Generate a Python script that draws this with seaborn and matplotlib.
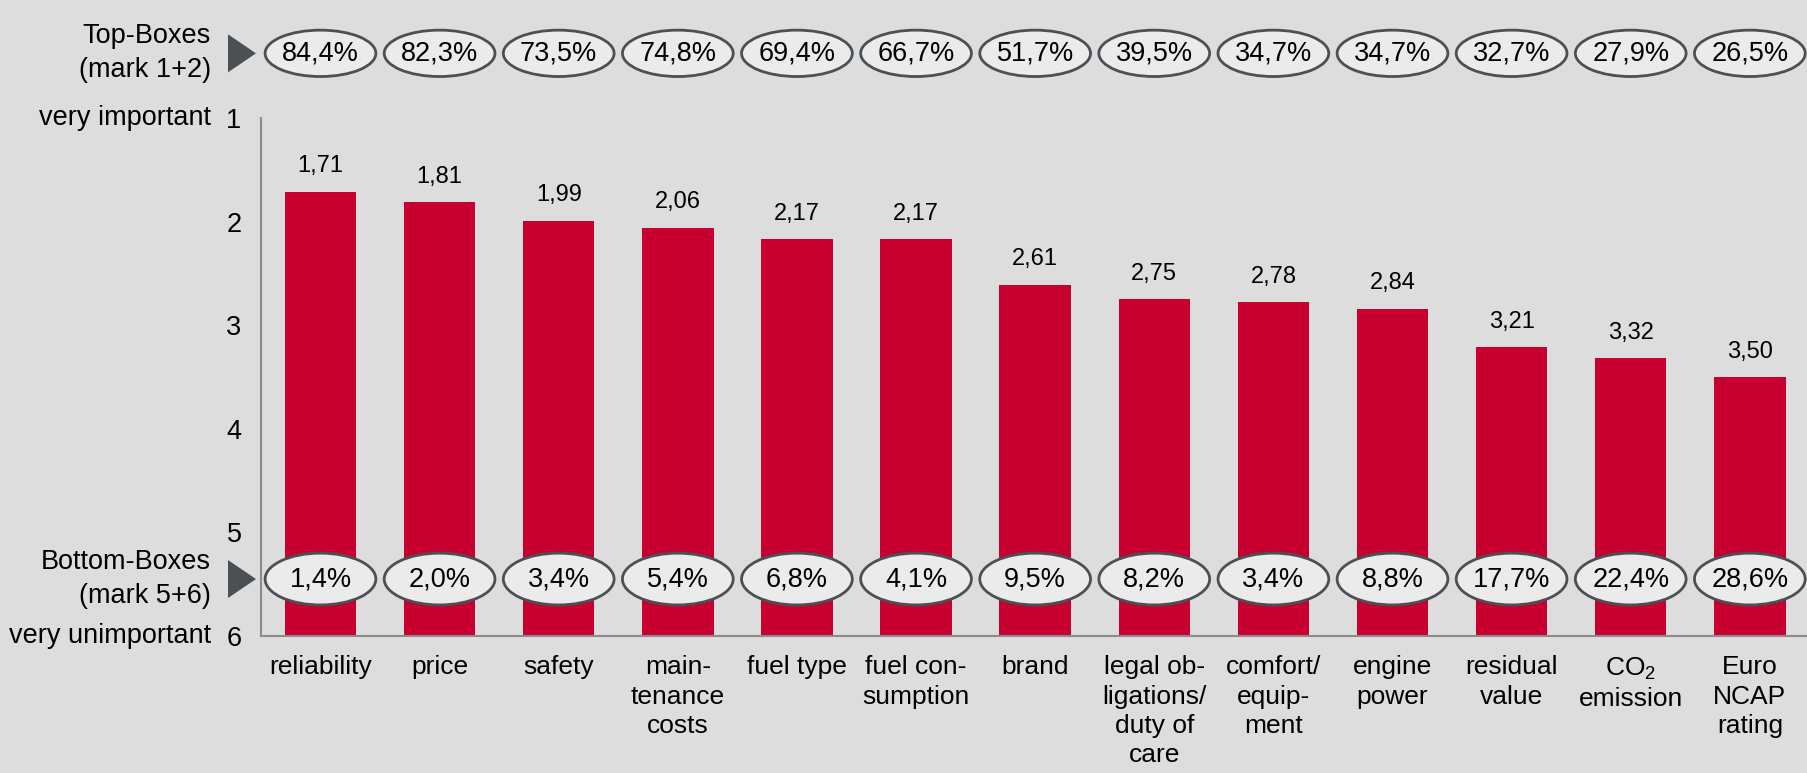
import matplotlib
matplotlib.use("Agg")
import matplotlib.pyplot as plt
import matplotlib.transforms as mtransforms
from matplotlib.patches import Ellipse, Polygon
import seaborn as sns
import pandas as pd
import numpy as np

# Chart data (mean importance, 1 = very important, 6 = very unimportant)
criteria = ['reliability', 'price', 'safety', 'main-\ntenance\ncosts', 'fuel type',
            'fuel con-\nsumption', 'brand', 'legal ob-\nligations/\nduty of\ncare',
            'comfort/\nequip-\nment', 'engine\npower', 'residual\nvalue',
            'CO$_\\mathregular{2}$\nemission', 'Euro\nNCAP\nrating']
mean_scores = [1.71, 1.81, 1.99, 2.06, 2.17, 2.17, 2.61, 2.75, 2.78, 2.84, 3.21, 3.32, 3.50]
top_boxes = ['84,4%', '82,3%', '73,5%', '74,8%', '69,4%', '66,7%', '51,7%',
             '39,5%', '34,7%', '34,7%', '32,7%', '27,9%', '26,5%']
bottom_boxes = ['1,4%', '2,0%', '3,4%', '5,4%', '6,8%', '4,1%', '9,5%',
                '8,2%', '3,4%', '8,8%', '17,7%', '22,4%', '28,6%']
scale_ticks = [1, 2, 3, 4, 5, 6]

# -------------------------
# Styling
# -------------------------
bg = '#DDDDDD'
bar_red = '#C8002F'
axis_grey = '#8C8C8C'
dark = '#4B5055'
ell_face = '#EBEBEB'
fs = 19.5

sns.set_style("white")
plt.rcParams['font.family'] = ['Liberation Sans', 'DejaVu Sans']
plt.rcParams['mathtext.default'] = 'regular'
plt.rcParams['text.color'] = 'black'
plt.rcParams['xtick.color'] = 'black'
plt.rcParams['ytick.color'] = 'black'

df = pd.DataFrame({'criterion': criteria, 'mean': mean_scores})
# bars grow upwards from "6" (very unimportant)
df['height'] = 6 - df['mean']

fig = plt.figure(figsize=(18.07, 7.73), dpi=100, facecolor=bg)
ax = fig.add_axes([0.1444, 0.1772, 0.8556, 0.6701])
ax.set_facecolor(bg)

sns.barplot(data=df, x='criterion', y='height', color=bar_red, saturation=1,
            width=0.6, linewidth=0, ax=ax)

ax.set_xlim(-0.5, 12.48)
ax.set_ylim(0, 5)
ax.set_xlabel('')
ax.set_ylabel('')

# y axis: 1 at the top, 6 at the bottom
ax.set_yticks([6 - t for t in scale_ticks])
ax.set_yticklabels([str(t) for t in scale_ticks], fontsize=fs)
ax.tick_params(axis='y', length=6, width=1.2, color=axis_grey, labelcolor='black', pad=8)

# x axis: labels centred, tick marks between categories
ax.set_xticks(range(len(criteria)))
ax.set_xticklabels(criteria, fontsize=19, linespacing=1.27, va='top')
ax.tick_params(axis='x', which='major', length=0, pad=14, labelcolor='black')
ax.set_xticks(np.arange(0.5, len(criteria) - 1, 1.0), minor=True)
ax.tick_params(axis='x', which='minor', length=6, width=1.2, color=axis_grey)

for side in ['top', 'right']:
    ax.spines[side].set_visible(False)
for side in ['left', 'bottom']:
    ax.spines[side].set_color(axis_grey)
    ax.spines[side].set_linewidth(1.5)

# value labels above bars
for i, v in enumerate(mean_scores):
    ax.annotate(f'{v:.2f}'.replace('.', ','), xy=(i, 6 - v), xytext=(0, 14),
                textcoords='offset points', ha='center', va='baseline', fontsize=17)

# -------------------------
# Top / bottom box ellipses
# -------------------------
top_tr = mtransforms.blended_transform_factory(ax.transData, fig.transFigure)
top_y = 0.931
for i, lab in enumerate(top_boxes):
    e = Ellipse((i, top_y), width=0.93, height=0.060, transform=top_tr,
                facecolor=ell_face, edgecolor=dark, lw=2, clip_on=False, zorder=5)
    ax.add_patch(e)
    ax.text(i, top_y, lab, transform=top_tr, ha='center', va='center',
            fontsize=fs, zorder=6)

bot_y = 6 - 5.45
for i, lab in enumerate(bottom_boxes):
    e = Ellipse((i, bot_y), width=0.93, height=0.50, facecolor=ell_face,
                edgecolor=dark, lw=2, clip_on=False, zorder=5)
    ax.add_patch(e)
    ax.text(i, bot_y, lab, ha='center', va='center', fontsize=fs, zorder=6)

# -------------------------
# Left-hand annotations
# -------------------------
lab_x = 0.1168
fig.text(lab_x, top_y, 'Top-Boxes\n(mark 1+2)', ha='right', va='center',
         fontsize=fs, linespacing=1.4)
bot_fig_y = fig.transFigure.inverted().transform(ax.transData.transform((0, bot_y)))[1]
fig.text(lab_x, bot_fig_y, 'Bottom-Boxes\n(mark 5+6)', ha='right', va='center',
         fontsize=fs, linespacing=1.4)

y1 = fig.transFigure.inverted().transform(ax.transData.transform((0, 5)))[1]
y6 = fig.transFigure.inverted().transform(ax.transData.transform((0, 0)))[1]
fig.text(lab_x, y1, 'very important', ha='right', va='center', fontsize=fs)
fig.text(lab_x, y6, 'very unimportant', ha='right', va='center', fontsize=fs)

# dark triangles pointing at the ellipses
tri_w, tri_h = 28 / 1807, 38 / 773
tri_x = 228 / 1807
for yc in [top_y, bot_fig_y]:
    tri = Polygon([[tri_x, yc - tri_h / 2], [tri_x, yc + tri_h / 2],
                   [tri_x + tri_w, yc]], closed=True, transform=fig.transFigure,
                  facecolor=dark, edgecolor='none')
    fig.patches.append(tri)

plt.savefig('out.png', dpi=100, facecolor=bg)
